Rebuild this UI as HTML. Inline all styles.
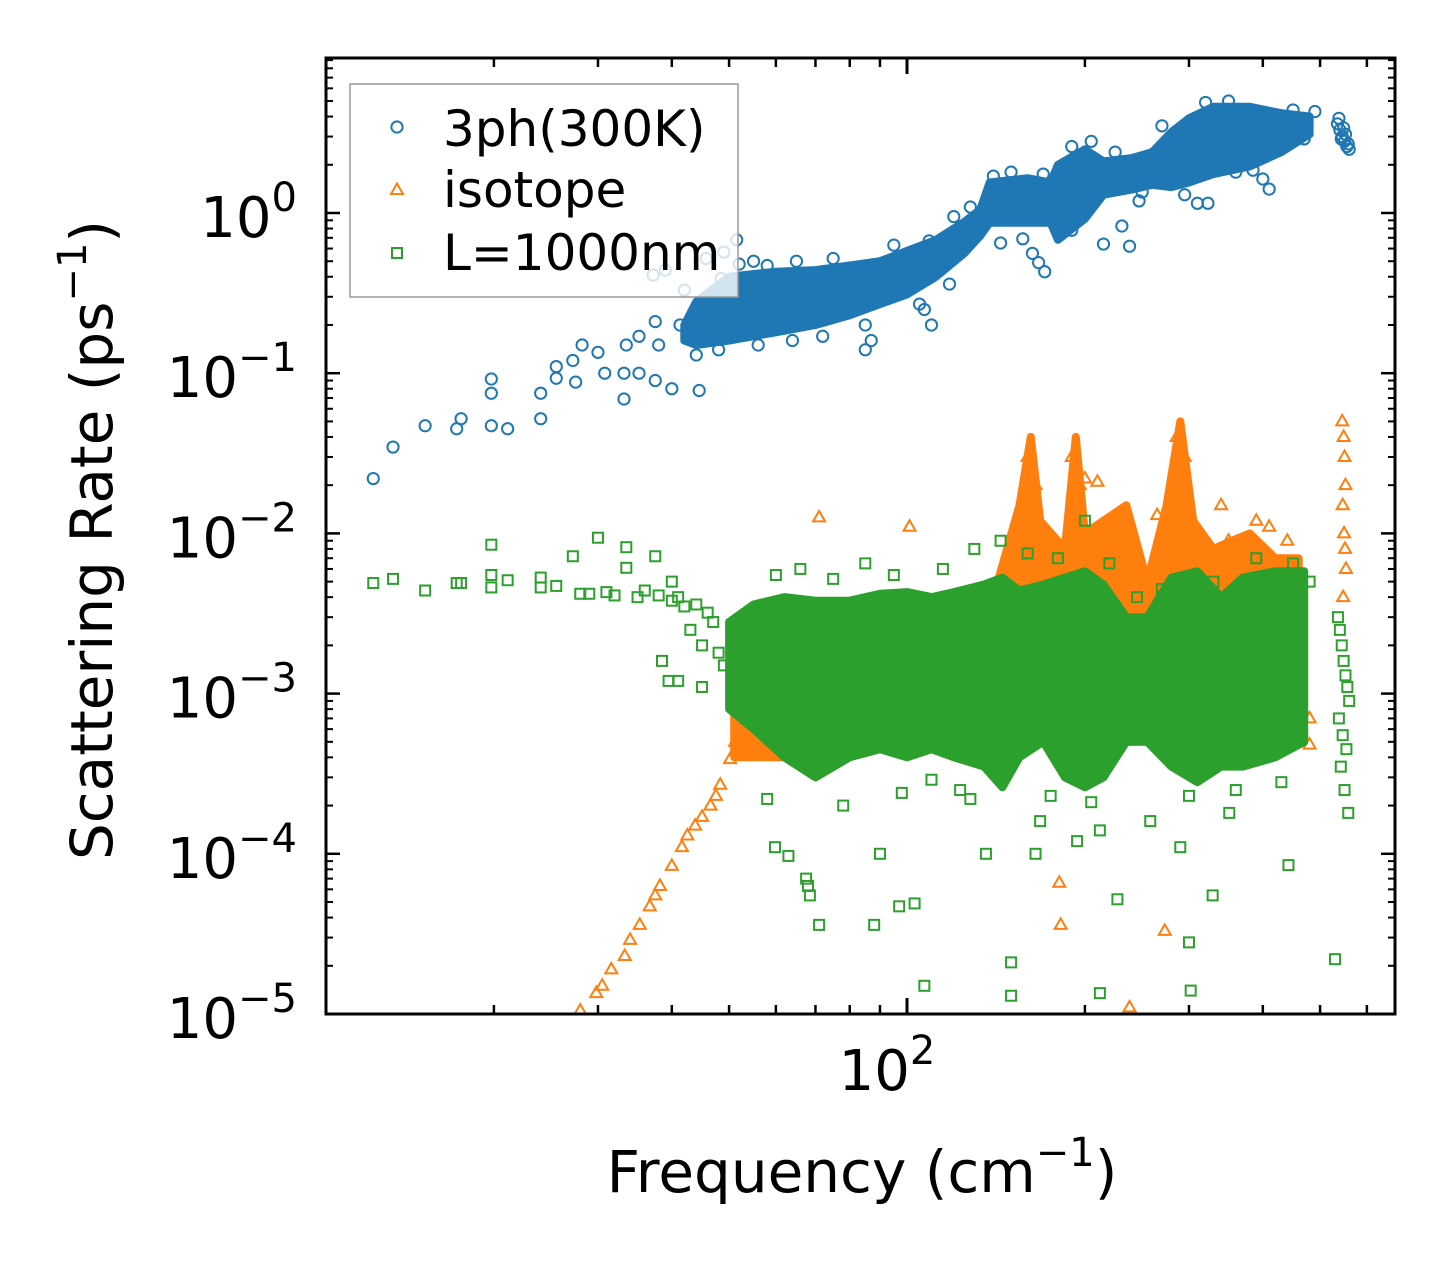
<!DOCTYPE html>
<html><head><meta charset="utf-8"><style>
html,body{margin:0;padding:0;background:#fff;}
svg{display:block;font-family:"DejaVu Sans","Liberation Sans",sans-serif;}
</style></head><body>
<svg id="chart" width="1455" height="1265" viewBox="0 0 1455 1265" xmlns="http://www.w3.org/2000/svg">
<rect x="0" y="0" width="1455" height="1265" fill="#fff"/>
<g id="plot"></g>
<g id="axes"></g>
</svg>
<script>
// ---------- data ----------
const blueBandFreq = [42,44,50,60,70,80,90,100,112,125,133,138,160,175,180,200,215,240,260,280,300,330,380,430,480];
const blueBandLo   = [0.16,0.15,0.16,0.18,0.2,0.23,0.27,0.31,0.4,0.56,0.72,0.87,0.87,0.87,0.68,0.92,1.3,1.4,1.5,1.45,1.55,1.75,1.95,2.4,3.1];
const blueBandHi   = [0.2,0.28,0.4,0.43,0.44,0.47,0.5,0.58,0.68,0.88,1.05,1.55,1.65,1.55,2.0,2.5,2.1,2.2,2.4,3.2,3.9,4.6,4.6,4.2,4.0];
const blueFreq = [12.5,13.5,15.3,17.3,17.6,19.8,19.8,19.8,21.1,24,24,25.5,25.5,27.2,27.5,28.2,30,30.8,33.2,33.2,33.5,35.2,37.5,40,44.5,41.3,37.5,35.2,38,37.2,39,45.7,49,48.5,51.5,
  85,87,109,110,107,128,144,157,163,167,171,215,238,231,247,310,323,410,400,385,
  535,540,545,550,555,560,538,548,558,552,543,
  42,46,52,55,58,65,75,95,120,140,150,170,190,205,225,270,320,350,450,490,
  44,48,56,64,72,85,105,118,190,250,295,360,470];
const blueRate = [0.022,0.0346,0.047,0.045,0.052,0.092,0.075,0.047,0.045,0.052,0.075,0.093,0.11,0.12,0.088,0.15,0.135,0.1,0.069,0.1,0.15,0.1,0.09,0.08,0.078,0.2,0.21,0.17,0.15,0.41,0.44,0.52,0.57,0.39,0.68,
  0.14,0.16,0.67,0.2,0.25,1.09,0.65,0.69,0.56,0.49,0.43,0.64,0.62,0.83,1.19,1.15,1.15,1.41,1.63,1.85,
  3.6,3.3,3.0,2.8,2.6,2.5,3.9,3.4,2.7,3.1,2.9,
  0.33,0.3,0.48,0.5,0.47,0.5,0.52,0.63,0.95,1.7,1.8,1.75,2.6,2.8,2.4,3.5,4.9,5.0,4.4,4.3,
  0.13,0.14,0.15,0.16,0.17,0.2,0.27,0.36,0.78,1.35,1.3,1.8,2.9];

const orangeBandFreq = [51,60,70,80,100,120,140,155,162,168,185,193,200,215,235,255,275,290,305,330,355,380,420,460];
const orangeBandLo   = [4e-4,4e-4,4e-4,5e-4,5e-4,5e-4,4e-4,4e-4,5e-4,5e-4,6e-4,6e-4,6e-4,5e-4,5e-4,5e-4,5e-4,5e-4,5e-4,5e-4,5e-4,5e-4,5e-4,5e-4];
const orangeBandHi   = [8e-4,2.5e-3,3e-3,3e-3,2.5e-3,3e-3,4e-3,1.5e-2,4e-2,1.2e-2,8e-3,4e-2,1e-2,1.2e-2,1.5e-2,5e-3,1.5e-2,5e-2,1.2e-2,8e-3,9e-3,1e-2,7e-3,7e-3];
const orangeFreq = [28,29.8,31.6,33.3,35.3,36.7,38.2,40,41.6,43.8,46.5,48.3,50.2,51.2,30.5,34,37.5,42.5,45,47.5,
  71,101,181,182,273,238,480,480,545,548,550,552,546,549,551,553,547,
  200,210,265,350,160,165,190,196,286,295,340,390,410,440];
const orangeRate = [1.05e-5,1.35e-5,1.9e-5,2.3e-5,3.6e-5,4.7e-5,6.3e-5,8.4e-5,1.1e-4,1.5e-4,2.0e-4,2.7e-4,3.9e-4,5e-4,1.5e-5,2.9e-5,5.5e-5,1.3e-4,1.7e-4,2.3e-4,
  0.0126,0.011,6.6e-5,3.6e-5,3.3e-5,1.1e-5,4.8e-4,7e-4,0.05,0.04,0.03,0.02,0.015,0.01,0.008,0.006,0.004,
  0.022,0.021,0.013,0.009,0.03,0.02,0.03,0.02,0.04,0.03,0.015,0.012,0.011,0.009];

const greenBandFreq = [50,55,62,70,80,90,100,110,120,135,145,155,170,185,200,215,235,255,280,310,340,370,420,470];
const greenBandLo   = [8e-4,6e-4,4e-4,3e-4,4e-4,4.5e-4,4e-4,4.5e-4,4e-4,3.5e-4,2.6e-4,4e-4,5e-4,3e-4,2.6e-4,3e-4,5e-4,5e-4,3.5e-4,2.8e-4,3.5e-4,3.5e-4,4e-4,5e-4];
const greenBandHi   = [2.8e-3,3.6e-3,4e-3,3.8e-3,3.8e-3,4.2e-3,4.3e-3,4e-3,4.3e-3,4.8e-3,5.3e-3,4.4e-3,4.8e-3,5.3e-3,5.8e-3,4.8e-3,3e-3,3e-3,5.3e-3,5.8e-3,4e-3,5.3e-3,5.8e-3,5.8e-3];
const greenFreq = [12.5,13.5,15.3,17.3,17.6,19.8,19.8,19.8,21.1,24,24,25.5,27.2,28,29,30,31,32,33.5,33.5,35,37.5,40,39.5,41,38.5,45,
  59.8,63,68,67.5,71,68.5,88,90,97,103,107,136,150,150,165,227,212,300,302,329,442,530,168,194,290,351,258,212,123,110,200,144,
  536,540,544,548,552,556,560,538,546,554,542,550,558,
  40,42,44,46,47,43,45,48,41,49,36,38,
  60,66,75,85,95,115,130,160,180,220,245,270,330,390,450,480,
  58,78,98,128,175,205,300,360,430];
const greenRate = [4.9e-3,5.2e-3,4.4e-3,4.9e-3,4.9e-3,8.5e-3,5.5e-3,4.6e-3,5.1e-3,5.3e-3,4.6e-3,4.7e-3,7.2e-3,4.2e-3,4.2e-3,9.4e-3,4.3e-3,4.1e-3,8.2e-3,6.1e-3,4e-3,7.2e-3,5e-3,1.2e-3,1.2e-3,1.6e-3,1.1e-3,
  1.1e-4,9.7e-5,6.3e-5,7e-5,3.6e-5,5.5e-5,3.6e-5,1e-4,4.7e-5,4.9e-5,1.5e-5,1e-4,2.1e-5,1.3e-5,1e-4,5.2e-5,1.35e-5,2.8e-5,1.4e-5,5.5e-5,8.5e-5,2.2e-5,1.6e-4,1.2e-4,1.1e-4,1.8e-4,1.6e-4,1.4e-4,2.5e-4,2.9e-4,0.012,9e-3,
  3e-3,2.5e-3,2e-3,1.6e-3,1.3e-3,1.1e-3,9e-4,7e-4,5.5e-4,4.5e-4,3.5e-4,2.5e-4,1.8e-4,
  3.8e-3,3.5e-3,3.6e-3,3.2e-3,2.8e-3,2.5e-3,2e-3,1.8e-3,4e-3,1.5e-3,4.4e-3,4.1e-3,
  5.5e-3,6e-3,5.2e-3,6.5e-3,5.5e-3,6e-3,8e-3,7.5e-3,7e-3,6.5e-3,4e-3,4.5e-3,5e-3,7e-3,6.5e-3,5e-3,
  2.2e-4,2e-4,2.4e-4,2.2e-4,2.3e-4,2.1e-4,2.3e-4,2.5e-4,2.8e-4];

const yTickExps = [0,-1,-2,-3,-4,-5];
const xMinorTicks = [20,30,40,50,60,70,80,90,200,300,400,500,600];
const xMajorTicks = [100];

// ---------- scales ----------
const L=326,R=1395,T=58,B=1014;
const X = f => 907 + (Math.log10(f)-2)*591;
const Y = r => 213 - Math.log10(r)*160.2;
const NS='http://www.w3.org/2000/svg';
const plot=document.getElementById('plot'), axes=document.getElementById('axes');
function mk(tag,attrs,parent){const e=document.createElementNS(NS,tag);for(const k in attrs)e.setAttribute(k,attrs[k]);parent.appendChild(e);return e;}

const C={blue:'#1f77b4',orange:'#ff7f0e',green:'#2ca02c'};

function band(fr,lo,hi,color,name){
  const pts=[];
  for(let i=0;i<fr.length;i++)pts.push(X(fr[i]).toFixed(1)+','+Y(hi[i]).toFixed(1));
  for(let i=fr.length-1;i>=0;i--)pts.push(X(fr[i]).toFixed(1)+','+Y(lo[i]).toFixed(1));
  const p=mk('polygon',{points:pts.join(' '),fill:color,stroke:color,'stroke-width':8,'stroke-linejoin':'round'},plot);
  
  
}
function marker(type,x,y,color){
  let e;
  if(type==='o') e=mk('circle',{cx:x,cy:y,r:5.6,fill:'none',stroke:color,'stroke-width':2},plot);
  else if(type==='^') e=mk('polygon',{points:`${x},${y-6.5} ${x-6},${y+4} ${x+6},${y+4}`,fill:'none',stroke:color,'stroke-width':2},plot);
  else e=mk('rect',{x:x-5,y:y-5,width:10,height:10,fill:'none',stroke:color,'stroke-width':2},plot);
  return e;
}
function scatter(fr,rt,type,color,name){
  for(let i=0;i<fr.length;i++){
    const e=marker(type,X(fr[i]),Y(rt[i]),color);
    
    
  }
}
band(blueBandFreq,blueBandLo,blueBandHi,C.blue,'3ph-dense-band');
scatter(blueFreq,blueRate,'o',C.blue,'3ph-point');
band(orangeBandFreq,orangeBandLo,orangeBandHi,C.orange,'isotope-dense-band');
scatter(orangeFreq,orangeRate,'^',C.orange,'isotope-point');
band(greenBandFreq,greenBandLo,greenBandHi,C.green,'boundary-dense-band');
scatter(greenFreq,greenRate,'s',C.green,'boundary-point');

const cp=mk('clipPath',{id:'cp'},document.getElementById('chart'));
mk('rect',{x:L,y:T,width:R-L,height:B-T},cp);
plot.setAttribute('clip-path','url(#cp)');

// ---------- axes ----------
const frame=mk('rect',{x:L,y:T,width:R-L,height:B-T,fill:'none',stroke:'#000','stroke-width':3},axes);


function line(x1,y1,x2,y2,w,name){const e=mk('line',{x1,y1,x2,y2,stroke:'#000','stroke-width':w},axes);}
yTickExps.forEach(ex=>{
  const y=Y(Math.pow(10,ex));
  line(L,y,L+14,y,2.5,'y-major-tick');line(R,y,R-14,y,2.5,'y-major-tick');
  const t=mk('text',{x:297,y:y+24,'font-size':56,'text-anchor':'end',fill:'#000'},axes);
  
  
  const s1=mk('tspan',{},t);s1.textContent='10';
  const s2=mk('tspan',{'font-size':40,dy:-26},t);s2.textContent=ex===0?'0':'\u2212'+(-ex);
});
for(let ex=-5;ex<=0;ex++){for(let m=2;m<=9;m++){const yy=Y(m*Math.pow(10,ex));if(yy<T)continue;line(L,yy,L+7,yy,2,'y-minor-tick');line(R,yy,R-7,yy,2,'y-minor-tick');}}
xMinorTicks.forEach(f=>{const x=X(f);line(x,B,x,B-9,2.5,'x-minor-tick');line(x,T,x,T+9,2.5,'x-minor-tick');});
xMajorTicks.forEach(f=>{const x=X(f);line(x,B,x,B-16,3,'x-major-tick');line(x,T,x,T+16,3,'x-major-tick');
  const t=mk('text',{x:x-20,y:1090,'font-size':56,'text-anchor':'middle',fill:'#000'},axes);
  
  
  const s1=mk('tspan',{},t);s1.textContent='10';
  const s2=mk('tspan',{'font-size':40,dy:-26},t);s2.textContent='2';
});
</script>
<svg style="position:absolute;left:0;top:0" width="1455" height="1265">
<g font-family="DejaVu Sans, Liberation Sans, sans-serif">
<text x="862" y="1192" font-size="58" text-anchor="middle">Frequency (cm<tspan font-size="40" dy="-26">−1</tspan><tspan dy="26">)</tspan></text>
<text transform="translate(112,540) rotate(-90)" font-size="58" text-anchor="middle">Scattering Rate (ps<tspan font-size="40" dy="-26">−1</tspan><tspan dy="26">)</tspan></text>
<g>
<rect x="350" y="84" width="388" height="213" fill="#fff" fill-opacity="0.8" stroke="#999" stroke-width="1.5"/>
<g><circle cx="397" cy="127" r="5.6" fill="none" stroke="#1f77b4" stroke-width="2"/><text x="443" y="146" font-size="50">3ph(300K)</text></g>
<g><polygon points="397,183.5 391,194 403,194" fill="none" stroke="#ff7f0e" stroke-width="2"/><text x="443" y="207" font-size="50">isotope</text></g>
<g><rect x="392" y="248" width="10" height="10" fill="none" stroke="#2ca02c" stroke-width="2"/><text x="443" y="270" font-size="50">L=1000nm</text></g>
</g>
</g>
</svg>
</body></html>
